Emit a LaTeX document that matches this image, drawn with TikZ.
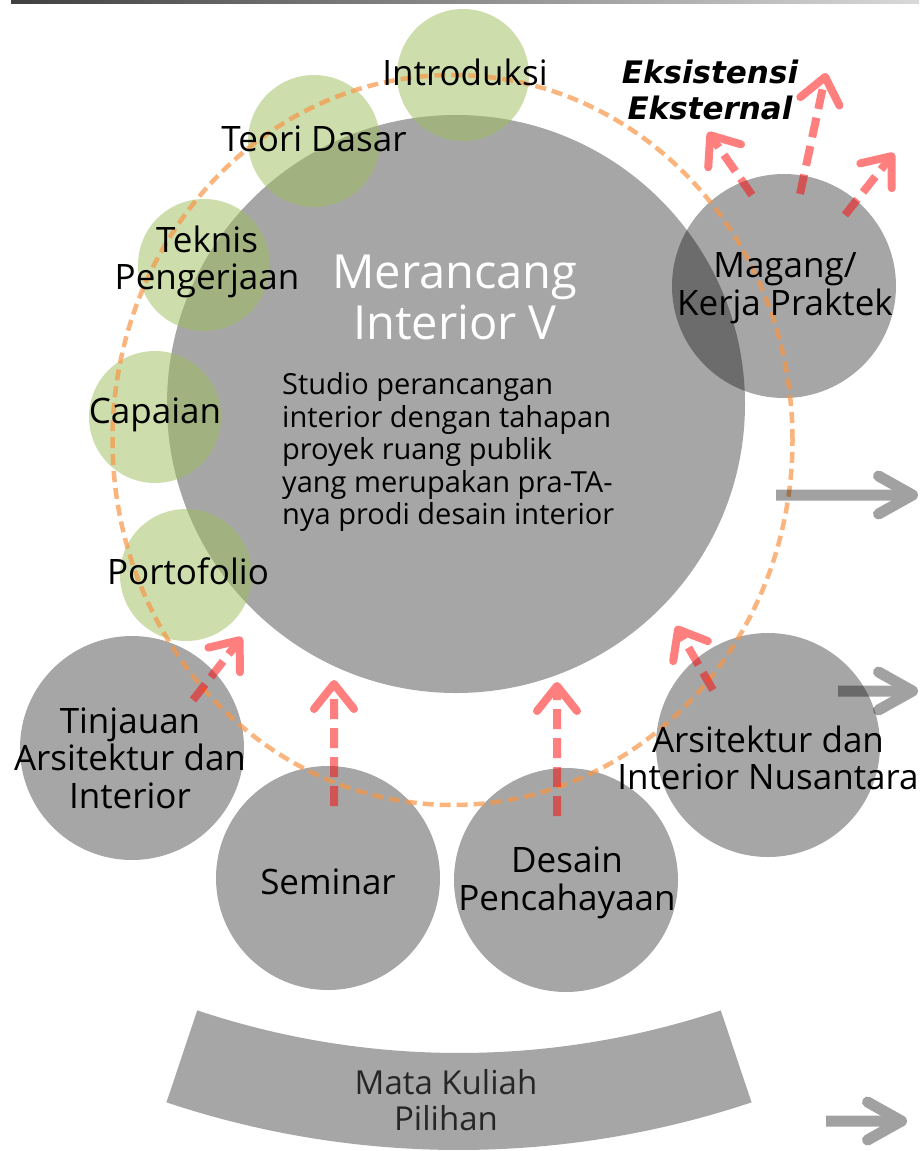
\documentclass[tikz,border=0pt]{standalone}
\usepackage{fontspec}
\setmainfont{Open Sans}
\newfontfamily\dejavu{DejaVu Sans}
\usetikzlibrary{arrows.meta,calc}
\definecolor{greenc}{HTML}{9BBB59}
\definecolor{orangec}{HTML}{F79646}
\definecolor{redc}{HTML}{FF0000}
\begin{document}
\begin{tikzpicture}[x=1pt,y=1pt,
  graydisc/.style={circle, fill=black, fill opacity=0.35, inner sep=0pt, minimum size=#1},
  greendisc/.style={circle, fill=greenc, fill opacity=0.5, inner sep=0pt, minimum size=132pt},
  lbl/.style={font=\fontsize{35}{37.5}\selectfont, align=center, text=black, inner sep=0pt},
  title/.style={font=\fontsize{47}{51}\selectfont, align=center, text=white, inner sep=0pt},
  body/.style={font=\fontsize{29}{32.5}\selectfont, align=left, text=black, inner sep=0pt},
  ext/.style={font=\dejavu\bfseries\itshape\fontsize{31}{36}\selectfont, align=center, text=black, inner sep=0pt},
  mkp/.style={font=\fontsize{33}{36}\selectfont, align=center, text=black!85, inner sep=0pt},
  redarrow/.style={draw=redc, line width=8pt, dash pattern=on 20pt off 9pt,
     -{Straight Barb[length=25pt,width=40pt,round]}},
  grayarrow/.style={draw=black, line width=11pt,
     -{Straight Barb[length=34pt,width=38pt,round]}},
  redgroup/.style={transparency group, opacity=0.5},
  graygroup/.style={transparency group, opacity=0.37},
  orangedash/.style={draw=orangec, draw opacity=0.7, line width=4.5pt, dash pattern=on 11pt off 6pt}
]
\useasboundingbox (0,0) rectangle (919,-1151);
\shade[left color=black!75, right color=black!15] (11,0) rectangle (919,-3);

% gray discs
\node[graydisc=578pt] (main) at (456,-404) {};
\node[graydisc=224pt] (magang) at (784,-286) {};
\node[graydisc=224pt] (tinjauan) at (132,-748) {};
\node[graydisc=224pt] (seminar) at (328,-878) {};
\node[graydisc=224pt] (desain) at (566,-880) {};
\node[graydisc=224pt] (nusantara) at (768,-745) {};

% bottom band
\coordinate (bc) at (459,-228);
\fill[black, fill opacity=0.35] ($(bc)+(251.5:825)$)
   arc[start angle=251.5, end angle=288.5, radius=825]
   -- ($(bc)+(288.5:922)$) arc[start angle=288.5, end angle=251.5, radius=922] -- cycle;

% green discs
\node[greendisc] (intro) at (463,-75) {};
\node[greendisc] (teori) at (314,-141) {};
\node[greendisc] (teknis) at (204,-265) {};
\node[greendisc] (capaian) at (155,-417) {};
\node[greendisc] (porto) at (186,-575) {};

% dashed orbit
\draw[orangedash] (452.5,-440) ellipse[x radius=340, y radius=365];

% red arrows
\coordinate (t1) at (193,-700); \coordinate (h1) at (242,-637);
\coordinate (t2) at (334,-806); \coordinate (h2) at (334,-680);
\coordinate (t3) at (557,-816); \coordinate (h3) at (557,-682);
\coordinate (t4) at (713,-690); \coordinate (h4) at (676,-626);
\coordinate (t5) at (752,-195); \coordinate (h5) at (708,-132);
\coordinate (t6) at (800,-194); \coordinate (h6) at (826,-73);
\coordinate (t7) at (845,-215); \coordinate (h7) at (894,-153);
\foreach \i in {1,...,7} {\begin{scope}[redgroup]\draw[redarrow] (t\i) -- (h\i);\end{scope}}

% gray arrows
\coordinate (g1a) at (776,-495); \coordinate (g1b) at (918,-495);
\coordinate (g2a) at (838,-691); \coordinate (g2b) at (918,-691);
\coordinate (g3a) at (826,-1121); \coordinate (g3b) at (907,-1121);
\begin{scope}[graygroup]\draw[grayarrow] (g1a) -- (g1b);\end{scope}
\begin{scope}[graygroup]\draw[grayarrow] (g2a) -- (g2b);\end{scope}
\begin{scope}[graygroup]\draw[grayarrow] (g3a) -- (g3b);\end{scope}

% texts
\node[title] (tmain) at (455,-297) {Merancang\\Interior V};
\node[body, anchor=west] (tbody) at (282,-452) {Studio perancangan\\interior dengan tahapan\\proyek ruang publik\\yang merupakan pra-TA-\\nya prodi desain interior};
\node[lbl] (lintro) at (465,-72) {Introduksi};
\node[lbl] (lteori) at (314,-139) {Teori Dasar};
\node[lbl] (lteknis) at (207,-262) {Teknis\\Pengerjaan};
\node[lbl] (lcapaian) at (155,-415) {Capaian};
\node[lbl] (lporto) at (188,-571) {Portofolio};
\node[lbl] (lmagang) at (785,-288) {Magang/\\Kerja Praktek};
\node[lbl] (ltinjauan) at (130,-758) {Tinjauan\\Arsitektur dan\\Interior};
\node[lbl] (lseminar) at (328,-882) {Seminar};
\node[lbl] (ldesain) at (567,-883) {Desain\\Pencahayaan};
\node[lbl] (lnusantara) at (768,-758) {Arsitektur dan\\Interior Nusantara};
\node[ext] (lext) at (710,-90) {Eksistensi\\Eksternal};
\node[mkp] (lmkp) at (446,-1100) {Mata Kuliah\\Pilihan};
\end{tikzpicture}
\end{document}
